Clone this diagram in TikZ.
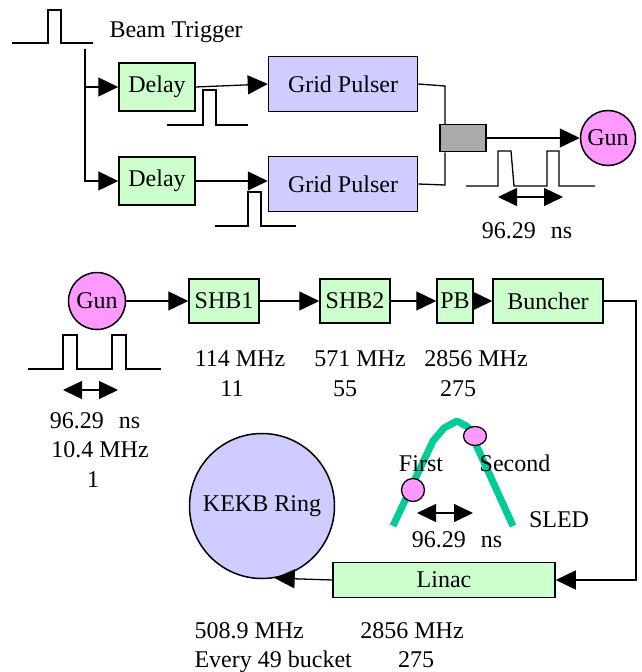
\documentclass[tikz,border=0pt]{standalone}
\usepackage{fontspec}
\setmainfont{Liberation Serif}
\usetikzlibrary{arrows.meta,shapes.geometric}

\definecolor{delayGreen}{HTML}{CCFFCC}
\definecolor{pulserBlue}{HTML}{CFCCFF}
\definecolor{gunPink}{HTML}{FF99FF}
\definecolor{mixGray}{HTML}{AAAAAA}
\definecolor{sledGreen}{HTML}{00CC99}

\begin{document}
\begin{tikzpicture}[x=1pt,y=-1pt]
% y is flipped so positions read like the screenshot

% style
\tikzset{
    every node/.style={font=\fontsize{24}{28}\selectfont},
    baseLine/.style={draw, line width=1.3pt},
    arrowLine/.style={baseLine, -{Triangle[length=20pt,width=19pt]}},
    bothLine/.style={baseLine, {Triangle[length=19pt,width=18pt]}-{Triangle[length=19pt,width=18pt]}},
    boxNode/.style={draw, line width=1.5pt, inner sep=0pt},
    greenBox/.style={boxNode, fill=delayGreen},
    blueBox/.style={boxNode, fill=pulserBlue},
    gunNode/.style={boxNode, circle, fill=gunPink, minimum size=55pt},
    dotNode/.style={draw, line width=1.3pt, ellipse, fill=gunPink, inner sep=0pt},
    sledLine/.style={draw=sledGreen, line width=7pt, line join=round}
}

\useasboundingbox (0,0) rectangle (641,672);

% pulses
\draw[baseLine] (12,43) -- (48,43) -- (48,10) -- (61,10) -- (61,43) -- (93,43);
\draw[baseLine] (167,125) -- (203,125) -- (203,90) -- (216,90) -- (216,125) -- (248,125);
\draw[baseLine] (215,226) -- (248,226) -- (248,192) -- (261,192) -- (261,226) -- (296,226);
\draw[baseLine] (466,186) -- (498,186) -- (498,151) -- (511,151) -- (514,186)
  -- (547,186) -- (547,151) -- (559,151) -- (559,186) -- (595,186);
\draw[baseLine] (28,369) -- (63,369) -- (63,335) -- (77,335) -- (77,369)
  -- (112,369) -- (112,335) -- (126,335) -- (126,369) -- (161,369);

% injector timing
\node[anchor=base west] (trigText) at (106,37) {Beam Trigger};
\coordinate (trig) at (85,49);

\node[greenBox, minimum width=76pt, minimum height=48pt] (delayA) at (157,87) {Delay};
\node[greenBox, minimum width=76pt, minimum height=48pt] (delayB) at (157,181) {Delay};
\node[blueBox, minimum width=149pt, minimum height=55pt] (pulserA) at (343,84) {Grid Pulser};
\node[blueBox, minimum width=149pt, minimum height=55pt] (pulserB) at (343,184) {Grid Pulser};
\node[boxNode, fill=mixGray, minimum width=46pt, minimum height=27pt] (mixer) at (463,138) {};
\node[gunNode] (gunA) at (608,138) {Gun};

\coordinate (joinA) at (445,86);
\coordinate (joinB) at (445,185);

\draw[arrowLine] (trig) |- (delayA.west);
\draw[arrowLine] (trig) |- (delayB.west);
\draw[arrowLine] (delayA.east) -- (pulserA.west);
\draw[arrowLine] (delayB.east) -- (delayB.east -| pulserB.west);
\draw[baseLine] (pulserA.east) -- (joinA) -- (joinA |- mixer.north);
\draw[baseLine] (pulserB.east) -- (joinB) -- (joinB |- mixer.south);
\draw[arrowLine] (mixer.east) -- (gunA.west);

\coordinate (gapAL) at (498,197);
\coordinate (gapAR) at (563,197);
\draw[bothLine] (gapAL) -- (gapAR);
\node[anchor=base] (gapAText) at (527,238) {96.29\hspace{9pt} ns};

% linac chain
\node[gunNode, minimum size=57pt] (gunB) at (97,301) {Gun};
\node[greenBox, minimum width=70pt, minimum height=44pt] (shbA) at (224,301) {SHB1};
\node[greenBox, minimum width=70pt, minimum height=44pt] (shbB) at (355,301) {SHB2};
\node[greenBox, minimum width=36pt, minimum height=44pt] (pb) at (455,301) {PB};
\node[greenBox, minimum width=110pt, minimum height=44pt] (buncher) at (548,301) {Buncher};
\node[greenBox, minimum width=222pt, minimum height=35pt] (linac) at (444,580) {Linac};
\node[blueBox, circle, minimum size=145pt] (ring) at (262,506) {KEKB Ring};

\coordinate (bend) at (636,301);

\draw[arrowLine] (gunB.east) -- (shbA.west);
\draw[arrowLine] (shbA.east) -- (shbB.west);
\draw[arrowLine] (shbB.east) -- (pb.west);
\draw[arrowLine] (pb.east) -- (buncher.west);
\draw[arrowLine] (buncher.east) -| (bend |- linac.east) -- (linac.east);
\draw[arrowLine] (linac.west) -- (ring.-80);

\coordinate (gapBL) at (63,390);
\coordinate (gapBR) at (118,390);
\draw[bothLine] (gapBL) -- (gapBR);

\node[anchor=base] (gapBText) at (95,428) {96.29\hspace{9pt} ns};
\node[anchor=base] (gunFreq) at (100,457) {10.4 MHz};
\node[anchor=base] (gunHarm) at (93,487) {1};
\node[anchor=base] (shbAFreq) at (240,366) {114 MHz};
\node[anchor=base] (shbAHarm) at (232,396) {11};
\node[anchor=base] (shbBFreq) at (360,366) {571 MHz};
\node[anchor=base] (shbBHarm) at (345,396) {55};
\node[anchor=base] (bunFreq) at (476,366) {2856 MHz};
\node[anchor=base] (bunHarm) at (458,396) {275};

% sled
\draw[sledLine] (393,526) -- (433,441) -- (444,428) -- (457,421) -- (468,427) -- (513,526);
\node[dotNode, minimum width=23pt, minimum height=23pt] (first) at (413,490) {};
\node[dotNode, minimum width=23pt, minimum height=19pt] (second) at (475,436) {};
\node[anchor=base] (firstText) at (421,471) {First};
\node[anchor=base] (secondText) at (515,471) {Second};
\node[anchor=base] (sledText) at (559,527) {SLED};

\coordinate (gapCL) at (417,513);
\coordinate (gapCR) at (473,513);
\draw[bothLine] (gapCL) -- (gapCR);
\node[anchor=base] (gapCText) at (457,547) {96.29\hspace{9pt} ns};

\node[anchor=base west] (ringFreq) at (191,638) {508.9 MHz};
\node[anchor=base west] (ringHarm) at (191,667) {Every 49 bucket};
\node[anchor=base] (linacFreq) at (412,638) {2856 MHz};
\node[anchor=base] (linacHarm) at (416,667) {275};

\end{tikzpicture}
\end{document}
